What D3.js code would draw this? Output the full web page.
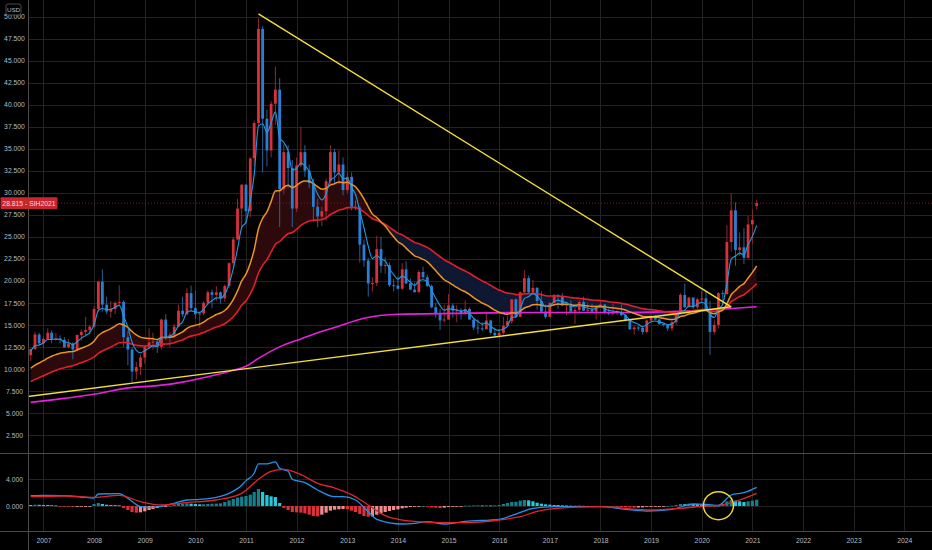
<!DOCTYPE html>
<html>
<head>
  <meta charset="utf-8">
  <title>SI1! monthly - EMA ribbon and MACD</title>
  <script src="https://d3js.org/d3.v7.min.js"></script>
  <style>
    body, html { margin: 0; background: #000; overflow: hidden; }
    svg { display: block; font-family: 'Liberation Sans', Arial, sans-serif; }
  </style>
</head>
<body>
<svg id="chart"></svg>
<script>
  // Monthly candles, Oct 2006 .. Feb 2021 (one row per year)
  const firstMonth = "2006-10";
  const open = [
    11.55, 12.25, 13.90,
    12.90, 13.40, 14.10, 13.35, 13.45, 13.30, 12.45, 12.90, 12.20, 13.85, 14.20, 14.40,
    14.80, 16.80, 19.90, 17.30, 16.50, 16.80, 17.50, 17.60, 13.60, 12.20, 9.70, 10.20,
    11.30, 12.50, 13.00, 13.10, 12.50, 15.60, 13.60, 13.90, 14.80, 16.60, 16.20, 18.60,
    16.90, 16.20, 16.30, 17.50, 18.70, 18.40, 18.70, 18.00, 19.40, 22.00, 24.70, 28.20,
    30.90, 27.90, 33.90, 37.90, 48.60, 38.40, 34.80, 40.10, 41.70, 30.40, 34.60, 32.80,
    28.20, 33.10, 34.60, 32.50, 31.10, 28.40, 27.30, 27.90, 31.30, 34.60, 32.30, 33.20,
    30.30, 31.80, 28.40, 28.30, 24.10, 22.30, 19.70, 19.75, 23.60, 21.70, 21.80, 19.50,
    19.45, 19.10, 21.30, 19.70, 19.00, 18.70, 21.00, 20.40, 19.40, 17.00, 16.20, 15.50,
    15.60, 17.20, 16.60, 16.65, 16.30, 16.80, 15.60, 14.70, 14.60, 14.50, 15.50, 14.10,
    13.80, 14.10, 14.90, 15.40, 17.90, 15.90, 18.70, 20.30, 18.70, 19.20, 17.70, 16.50,
    15.90, 17.50, 18.40, 18.20, 17.20, 17.40, 16.50, 16.70, 17.60, 16.60, 16.70, 16.50,
    17.10, 17.30, 16.40, 16.30, 16.40, 16.45, 16.10, 15.50, 14.50, 14.70, 14.65, 14.20,
    15.50, 16.00, 15.60, 15.10, 15.00, 14.60, 15.30, 16.40, 18.40, 17.00, 18.10, 17.00,
    17.90, 18.00, 16.70, 14.20, 15.00, 18.60, 18.50, 24.40, 28.00, 23.50, 23.80, 22.60,
    26.40, 28.50
  ];
  const high = [
    12.30, 14.20, 14.10,
    13.70, 14.60, 14.40, 14.10, 13.80, 13.60, 13.40, 13.00, 13.90, 14.50, 15.90, 15.00,
    17.10, 20.00, 21.30, 18.20, 17.70, 17.70, 19.50, 17.80, 14.30, 12.50, 10.80, 11.60,
    12.70, 14.60, 14.10, 13.40, 15.70, 16.20, 14.20, 15.10, 17.30, 18.20, 19.20, 19.45,
    18.90, 16.50, 17.70, 18.90, 19.00, 19.40, 18.80, 19.60, 22.10, 25.00, 29.30, 31.00,
    31.00, 34.00, 38.20, 49.80, 48.90, 39.40, 40.40, 44.30, 43.00, 35.50, 35.40, 33.70,
    34.00, 37.50, 35.40, 33.20, 31.60, 29.30, 28.40, 31.60, 35.40, 35.00, 34.80, 34.00,
    32.40, 32.30, 29.10, 28.50, 24.70, 22.60, 20.40, 25.10, 25.00, 22.70, 22.10, 20.20,
    20.50, 22.00, 22.20, 20.30, 19.80, 21.20, 21.60, 20.70, 19.60, 17.50, 16.80, 17.30,
    18.50, 17.40, 17.20, 16.90, 17.80, 17.00, 15.80, 15.60, 15.30, 16.40, 15.60, 14.70,
    14.50, 15.90, 16.00, 17.90, 18.00, 18.80, 21.20, 20.60, 20.10, 19.30, 18.80, 17.30,
    17.60, 18.50, 18.50, 18.60, 17.50, 17.80, 16.90, 17.80, 18.20, 17.50, 17.40, 17.20,
    17.70, 17.40, 16.80, 17.40, 16.80, 17.30, 16.20, 15.60, 14.90, 14.90, 14.80, 15.60,
    16.20, 16.10, 15.70, 15.20, 15.10, 15.50, 16.60, 18.60, 19.70, 18.20, 18.10, 18.10,
    18.90, 18.90, 17.70, 15.60, 18.70, 18.90, 26.30, 29.90, 28.90, 25.50, 26.00, 27.40,
    28.10, 29.20
  ];
  const low = [
    10.90, 12.15, 12.60,
    12.40, 13.30, 12.90, 13.20, 12.90, 12.40, 12.40, 11.10, 12.10, 13.20, 13.70, 13.90,
    14.70, 16.50, 16.50, 16.20, 15.80, 16.20, 17.20, 12.50, 10.40, 8.50, 8.80, 9.30,
    10.60, 12.30, 12.20, 11.80, 12.20, 13.30, 12.50, 13.50, 14.70, 15.90, 16.10, 16.60,
    15.70, 14.70, 16.10, 17.20, 16.90, 17.70, 17.40, 17.60, 19.20, 21.50, 24.60, 26.00,
    26.40, 27.20, 33.00, 37.60, 32.30, 33.00, 34.00, 37.70, 26.10, 29.80, 30.50, 26.10,
    27.80, 32.90, 31.80, 30.50, 26.70, 26.10, 26.20, 26.80, 31.00, 31.00, 31.00, 29.70,
    29.90, 28.00, 28.00, 22.10, 21.60, 18.20, 18.80, 19.40, 20.90, 20.80, 19.30, 18.80,
    19.00, 19.00, 19.60, 19.00, 18.70, 18.70, 20.20, 19.30, 16.90, 15.80, 14.40, 15.30,
    15.60, 15.80, 15.30, 15.60, 16.20, 15.60, 14.40, 14.00, 14.30, 14.50, 13.90, 13.60,
    13.60, 13.90, 14.90, 15.10, 15.80, 15.90, 18.50, 18.60, 18.60, 16.70, 16.40, 15.70,
    15.90, 17.20, 16.80, 17.10, 16.10, 16.40, 15.10, 16.30, 16.60, 16.50, 16.50, 15.60,
    16.90, 16.20, 16.10, 16.10, 16.10, 16.00, 15.40, 14.40, 13.90, 14.30, 13.90, 14.00,
    15.30, 15.60, 15.00, 14.80, 14.30, 14.30, 15.00, 16.20, 16.90, 17.00, 16.80, 16.80,
    17.50, 16.60, 11.60, 13.90, 14.60, 17.20, 18.40, 23.30, 21.70, 22.80, 21.90, 22.50,
    24.20, 28.10
  ];
  const close = [
    12.25, 13.90, 12.90,
    13.40, 14.10, 13.35, 13.45, 13.30, 12.45, 12.90, 12.20, 13.85, 14.20, 14.40, 14.80,
    16.80, 19.90, 17.30, 16.50, 16.80, 17.50, 17.60, 13.60, 12.20, 9.70, 10.20, 11.30,
    12.50, 13.00, 13.10, 12.50, 15.60, 13.60, 13.90, 14.80, 16.60, 16.20, 18.60, 16.90,
    16.20, 16.30, 17.50, 18.70, 18.40, 18.70, 18.00, 19.40, 22.00, 24.70, 28.20, 30.90,
    27.90, 33.90, 37.90, 48.60, 38.40, 34.80, 40.10, 41.70, 30.40, 34.60, 32.80, 28.20,
    33.10, 34.60, 32.50, 31.10, 28.40, 27.30, 27.90, 31.30, 34.60, 32.30, 33.20, 30.30,
    31.80, 28.40, 28.30, 24.10, 22.30, 19.70, 19.75, 23.60, 21.70, 21.80, 19.50, 19.45,
    19.10, 21.30, 19.70, 19.00, 18.70, 21.00, 20.40, 19.40, 17.00, 16.20, 15.50, 15.60,
    17.20, 16.60, 16.65, 16.30, 16.80, 15.60, 14.70, 14.60, 14.50, 15.50, 14.10, 13.80,
    14.10, 14.90, 15.40, 17.90, 15.90, 18.70, 20.30, 18.70, 19.20, 17.70, 16.50, 15.90,
    17.50, 18.40, 18.20, 17.20, 17.40, 16.50, 16.70, 17.60, 16.60, 16.70, 16.50, 17.10,
    17.30, 16.40, 16.30, 16.40, 16.45, 16.10, 15.50, 14.50, 14.70, 14.65, 14.20, 15.50,
    16.00, 15.60, 15.10, 15.00, 14.60, 15.30, 16.40, 18.40, 17.00, 18.10, 17.00, 17.90,
    18.00, 16.70, 14.20, 15.00, 18.60, 18.50, 24.40, 28.00, 23.50, 23.80, 22.60, 26.40,
    26.90, 28.815
  ];

  // Moving averages read month by month (fast blue, orange, red)
  const fastMa = [
    12.00, 12.63, 12.72,
    12.95, 13.33, 13.34, 13.38, 13.35, 13.05, 13.00, 12.73, 13.10, 13.47, 13.78, 14.12,
    15.01, 16.64, 16.86, 16.74, 16.76, 17.01, 17.21, 16.01, 14.74, 13.06, 12.11, 11.84,
    12.06, 12.37, 12.61, 12.57, 13.58, 13.59, 13.69, 14.06, 14.91, 15.34, 16.43, 16.59,
    16.46, 16.41, 16.77, 17.41, 17.74, 18.06, 18.04, 18.49, 19.66, 21.34, 23.63, 26.05,
    26.67, 29.08, 32.02, 37.55, 37.83, 36.82, 37.91, 39.17, 36.25, 35.70, 34.73, 32.56,
    32.74, 33.36, 33.07, 32.42, 31.08, 29.82, 29.18, 29.89, 31.46, 31.74, 32.22, 31.58,
    31.66, 30.57, 29.82, 27.91, 26.04, 23.93, 22.52, 22.88, 22.48, 22.26, 21.34, 20.72,
    20.18, 20.56, 20.27, 19.85, 19.47, 19.98, 20.12, 19.88, 18.92, 18.01, 17.18, 16.65,
    16.83, 16.76, 16.70, 16.57, 16.65, 16.30, 15.76, 15.38, 15.08, 15.22, 14.85, 14.50,
    14.37, 14.54, 14.83, 15.85, 15.87, 16.81, 17.98, 18.22, 18.54, 18.26, 17.68, 17.08,
    17.22, 17.62, 17.81, 17.61, 17.54, 17.19, 17.03, 17.22, 17.01, 16.91, 16.77, 16.88,
    17.02, 16.81, 16.64, 16.56, 16.51, 16.37, 16.08, 15.55, 15.27, 15.08, 14.79, 15.03,
    15.35, 15.43, 15.32, 15.21, 15.01, 15.11, 15.54, 16.49, 16.66, 17.14, 17.09, 17.36,
    17.57, 17.28, 16.25, 15.84, 16.76, 17.34, 19.69, 22.46, 22.81, 23.14, 22.96, 24.11,
    25.04, 26.29
  ];
  const midMa = [
    10.07, 10.43, 10.67,
    10.93, 11.23, 11.43, 11.62, 11.78, 11.85, 11.95, 11.97, 12.15, 12.35, 12.54, 12.76,
    13.14, 13.79, 14.12, 14.35, 14.58, 14.86, 15.12, 14.98, 14.71, 14.24, 13.85, 13.61,
    13.50, 13.45, 13.42, 13.33, 13.55, 13.55, 13.58, 13.70, 13.97, 14.19, 14.61, 14.83,
    14.96, 15.08, 15.31, 15.64, 15.90, 16.17, 16.34, 16.63, 17.14, 17.86, 18.85, 19.99,
    20.75, 22.00, 23.51, 25.90, 27.09, 27.82, 28.99, 30.20, 30.22, 30.64, 30.84, 30.59,
    30.83, 31.19, 31.32, 31.30, 31.02, 30.67, 30.40, 30.49, 30.88, 31.01, 31.22, 31.14,
    31.20, 30.93, 30.68, 30.05, 29.31, 28.40, 27.57, 27.19, 26.67, 26.21, 25.57, 24.99,
    24.43, 24.13, 23.71, 23.26, 22.83, 22.66, 22.44, 22.15, 21.66, 21.14, 20.60, 20.12,
    19.84, 19.53, 19.25, 18.97, 18.76, 18.46, 18.10, 17.77, 17.46, 17.27, 16.97, 16.67,
    16.43, 16.28, 16.20, 16.36, 16.32, 16.55, 16.91, 17.08, 17.28, 17.32, 17.24, 17.11,
    17.15, 17.27, 17.36, 17.34, 17.35, 17.27, 17.22, 17.26, 17.20, 17.15, 17.09, 17.09,
    17.11, 17.04, 16.97, 16.92, 16.87, 16.80, 16.68, 16.47, 16.30, 16.15, 15.96, 15.92,
    15.93, 15.90, 15.82, 15.74, 15.63, 15.60, 15.68, 15.94, 16.04, 16.24, 16.31, 16.46,
    16.61, 16.62, 16.39, 16.26, 16.48, 16.67, 17.40, 18.42, 18.90, 19.37, 19.68, 20.32,
    20.95, 21.70
  ];
  const slowMa = [
    8.55, 8.81, 9.01,
    9.22, 9.46, 9.65, 9.84, 10.01, 10.13, 10.26, 10.36, 10.53, 10.71, 10.89, 11.08,
    11.36, 11.77, 12.04, 12.26, 12.48, 12.73, 12.97, 13.00, 12.96, 12.80, 12.67, 12.61,
    12.60, 12.62, 12.64, 12.64, 12.78, 12.82, 12.87, 12.97, 13.14, 13.29, 13.55, 13.72,
    13.84, 13.96, 14.13, 14.35, 14.55, 14.75, 14.91, 15.13, 15.47, 15.92, 16.52, 17.22,
    17.74, 18.53, 19.47, 20.89, 21.75, 22.39, 23.25, 24.15, 24.46, 24.95, 25.34, 25.48,
    25.85, 26.28, 26.58, 26.80, 26.88, 26.90, 26.95, 27.16, 27.52, 27.76, 28.02, 28.13,
    28.31, 28.31, 28.31, 28.10, 27.82, 27.42, 27.05, 26.88, 26.63, 26.39, 26.06, 25.74,
    25.41, 25.21, 24.94, 24.65, 24.36, 24.20, 24.01, 23.79, 23.46, 23.10, 22.73, 22.38,
    22.13, 21.86, 21.60, 21.34, 21.12, 20.85, 20.55, 20.26, 19.98, 19.76, 19.48, 19.20,
    18.95, 18.75, 18.59, 18.56, 18.43, 18.44, 18.53, 18.54, 18.57, 18.53, 18.43, 18.31,
    18.27, 18.28, 18.28, 18.23, 18.19, 18.11, 18.04, 18.02, 17.95, 17.89, 17.82, 17.79,
    17.77, 17.70, 17.63, 17.57, 17.51, 17.44, 17.35, 17.21, 17.09, 16.97, 16.84, 16.77,
    16.73, 16.68, 16.60, 16.52, 16.43, 16.37, 16.37, 16.47, 16.50, 16.58, 16.60, 16.66,
    16.73, 16.73, 16.60, 16.53, 16.63, 16.72, 17.10, 17.63, 17.92, 18.21, 18.42, 18.81,
    19.21, 19.68
  ];

  // Long moving average (magenta), read at a few points
  const longMaDates = ["2006-10", "2007-06", "2008-02", "2008-09", "2009-04", "2009-10",
    "2010-04", "2010-10", "2011-01", "2011-04", "2011-09", "2012-02", "2012-06", "2012-10",
    "2013-05", "2014-01", "2015-02", "2016-08", "2018-06", "2020-03", "2021-02"];
  const longMaValues = [6.2, 6.65, 7.2, 7.85, 8.1, 8.5, 9.1, 9.85, 10.3, 11.2, 12.5, 13.4,
    14.1, 14.7, 15.75, 16.2, 16.3, 16.4, 16.4, 16.7, 17.05];

  // MACD pane
  const macdDates = ["2006-10", "2007-01", "2007-06", "2007-10", "2008-01", "2008-02", "2008-07",
    "2008-09", "2008-12", "2009-02", "2009-05", "2009-08", "2009-11", "2010-02", "2010-06",
    "2010-09", "2010-12", "2011-01", "2011-03", "2011-04", "2011-06", "2011-08", "2011-09",
    "2011-11", "2011-12", "2012-03", "2012-06", "2012-10", "2012-12", "2013-03", "2013-06",
    "2013-08", "2014-02", "2014-05", "2014-08", "2014-12", "2015-05", "2016-01", "2016-05",
    "2016-09", "2017-02", "2018-01", "2018-07", "2018-12", "2019-06", "2019-11", "2020-02",
    "2020-05", "2020-08", "2020-11", "2021-02"];
  const macdValues = [1.55, 1.6, 1.55, 1.35, 1.2, 1.8, 1.85, 1.15, -0.1, -0.2, -0.05, 0.4, 0.9,
    1.0, 1.3, 1.9, 3.1, 3.8, 4.9, 6.3, 6.3, 6.6, 5.65, 5.2, 4.0, 3.5, 2.4, 1.4, 1.4, 0.9,
    -0.85, -2.0, -2.7, -2.6, -2.35, -2.7, -2.3, -2.0, -1.2, -0.35, -0.1, -0.1, -0.5, -0.75,
    -0.5, 0.3, 0.25, 0.1, 1.65, 2.0, 2.8];
  const signalDates = ["2006-10", "2007-06", "2008-01", "2008-07", "2008-12", "2009-05", "2009-11",
    "2010-06", "2010-12", "2011-04", "2011-07", "2011-10", "2012-02", "2012-06", "2012-10",
    "2013-02", "2013-06", "2013-10", "2014-03", "2014-09", "2015-05", "2016-01", "2016-06",
    "2016-10", "2017-05", "2018-01", "2019-01", "2019-08", "2020-02", "2020-05", "2020-10",
    "2021-02"];
  const signalValues = [1.4, 1.5, 1.3, 1.6, 0.65, 0.15, 0.5, 0.9, 1.9, 4.0, 5.2, 5.5, 4.7, 3.4,
    2.7, 1.7, 0.15, -1.45, -2.2, -2.45, -2.5, -2.1, -1.6, -0.8, -0.25, -0.1, -0.6, -0.35,
    0.0, 0.1, 0.9, 1.9];
  const histogram = [
    0.15, 0.20, 0.18,
    0.15, 0.15, 0.12, 0.08, -0.03, -0.08, -0.10, -0.12, -0.10, -0.08, -0.05, -0.04,
    0.30, 0.45, 0.30, 0.20, 0.15, 0.14, 0.10, -0.30, -0.60, -0.90, -1.00, -0.95,
    -0.80, -0.60, -0.45, -0.30, -0.15, -0.05, 0.05, 0.20, 0.30, 0.35, 0.40, 0.35,
    0.30, 0.25, 0.26, 0.30, 0.35, 0.36, 0.40, 0.60, 0.85, 1.05, 1.25, 1.40,
    1.50, 1.70, 2.10, 2.55, 2.10, 1.65, 1.45, 1.35, 0.45, -0.30, -0.60, -0.90,
    -0.95, -1.00, -1.10, -1.30, -1.50, -1.55, -1.30, -1.00, -0.70, -0.55, -0.50, -0.45,
    -0.50, -0.70, -0.90, -1.20, -1.50, -1.60, -1.55, -1.30, -1.10, -0.90, -0.75, -0.60,
    -0.50, -0.35, -0.25, -0.15, -0.10, -0.05, 0.00, -0.10, -0.20, -0.25, -0.30, -0.25,
    -0.15, -0.10, -0.05, -0.04, 0.05, 0.06, 0.08, 0.10, 0.08, 0.10, 0.08, 0.10,
    0.15, 0.30, 0.45, 0.60, 0.62, 0.80, 0.90, 0.85, 0.70, 0.50, 0.35, 0.25,
    0.20, 0.15, 0.14, 0.10, 0.08, 0.05, 0.06, 0.05, 0.03, 0.02, 0.01, 0.00,
    -0.02, -0.05, -0.08, -0.10, -0.12, -0.15, -0.18, -0.22, -0.25, -0.22, -0.20, -0.12,
    -0.08, -0.05, -0.04, -0.03, 0.00, 0.05, 0.15, 0.30, 0.28, 0.35, 0.30, 0.29,
    0.25, 0.15, 0.05, -0.02, 0.00, 0.30, 0.70, 0.90, 0.80, 0.70, 0.60, 0.70,
    0.80, 0.95
  ];

  // Axis ticks and annotations
  const priceTicks = [2.5, 5, 7.5, 10, 12.5, 15, 17.5, 20, 22.5, 25, 27.5, 30, 32.5, 35,
    37.5, 40, 42.5, 45, 47.5, 50];
  const macdTicks = [0, 4];
  const yearTicks = [2007, 2008, 2009, 2010, 2011, 2012, 2013, 2014, 2015, 2016, 2017, 2018,
    2019, 2020, 2021, 2022, 2023, 2024];
  const lastPrice = 28.815;
  const lastLabel = "28.815 - SIH2021";
  const supportLine = [["2006-09", 6.85], ["2020-08", 17.05]];
  const resistanceLine = [["2011-04", 50.3], ["2020-08", 17.05]];
  const macdCircle = ["2020-05", 0.05];

  // ---- layout ----
  const width = 932, height = 550;
  const axisW = 28;
  const priceBottom = 453, macdBottom = 531;

  const parseMonth = d3.timeParse("%Y-%m");
  const start = parseMonth(firstMonth);
  const months = close.map((d, i) => d3.timeMonth.offset(start, i));

  const x = d3.scaleTime()
    .domain([parseMonth("2006-10"), parseMonth("2024-01")])
    .range([30.7, 904.2]);
  const yP = d3.scaleLinear().domain([0, 50]).range([457, 16.5]);
  const yM = d3.scaleLinear().domain([0, 4]).range([506, 479.3]);

  const svg = d3.select("#chart")
    .attr("width", width)
    .attr("height", height)
    .attr("viewBox", [0, 0, width, height]);

  svg.append("rect").attr("width", width).attr("height", height).attr("fill", "#000");

  const defs = svg.append("defs");
  defs.append("clipPath").attr("id", "clip-price")
    .append("rect").attr("x", axisW).attr("y", 0)
    .attr("width", width - axisW).attr("height", priceBottom);
  defs.append("clipPath").attr("id", "clip-macd")
    .append("rect").attr("x", axisW).attr("y", priceBottom)
    .attr("width", width - axisW).attr("height", macdBottom - priceBottom);

  // grid
  const grid = svg.append("g").attr("stroke", "#232323").attr("stroke-width", 1);
  grid.selectAll(".hgrid")
    .data(priceTicks)
    .join("line")
      .attr("x1", axisW).attr("x2", width)
      .attr("y1", d => Math.round(yP(d)) + 0.5).attr("y2", d => Math.round(yP(d)) + 0.5);
  grid.selectAll(".mgrid")
    .data(macdTicks)
    .join("line")
      .attr("x1", axisW).attr("x2", width)
      .attr("y1", d => Math.round(yM(d)) + 0.5).attr("y2", d => Math.round(yM(d)) + 0.5);
  grid.selectAll(".vgrid")
    .data(yearTicks)
    .join("line")
      .attr("x1", d => Math.round(x(new Date(d, 0, 1))) + 0.5)
      .attr("x2", d => Math.round(x(new Date(d, 0, 1))) + 0.5)
      .attr("y1", 0).attr("y2", macdBottom);

  // ---- price pane ----
  const pricePane = svg.append("g").attr("clip-path", "url(#clip-price)");
  const mx = (d, i) => x(months[i]);

  // ribbon between mid and slow averages, coloured by which one is on top
  const ribbon = d3.area().x(mx).y0((d, i) => yP(slowMa[i])).y1(d => yP(d)).curve(d3.curveMonotoneX);
  defs.append("clipPath").attr("id", "clip-above")
    .append("path")
    .attr("d", d3.area().x(mx).y0(0).y1(d => yP(d)).curve(d3.curveMonotoneX)(slowMa));
  defs.append("clipPath").attr("id", "clip-below")
    .append("path")
    .attr("d", d3.area().x(mx).y0(d => yP(d)).y1(priceBottom).curve(d3.curveMonotoneX)(slowMa));
  pricePane.append("path")
    .attr("d", ribbon(midMa))
    .attr("fill", "#2c0a0b")
    .attr("clip-path", "url(#clip-above)");
  pricePane.append("path")
    .attr("d", ribbon(midMa))
    .attr("fill", "#0e1832")
    .attr("clip-path", "url(#clip-below)");

  // last price dotted line
  pricePane.append("line")
    .attr("x1", axisW).attr("x2", width)
    .attr("y1", yP(lastPrice)).attr("y2", yP(lastPrice))
    .attr("stroke", "#7d1b1f").attr("stroke-dasharray", "1,2");

  // candles
  const bodyW = 2.8;
  const candles = pricePane.append("g")
    .selectAll("g")
    .data(close)
    .join("g");
  candles.append("line")
    .attr("x1", mx).attr("x2", mx)
    .attr("y1", (d, i) => yP(high[i]))
    .attr("y2", (d, i) => yP(low[i]))
    .attr("stroke", (d, i) => d >= open[i] ? "#8e2a30" : "#28609a")
    .attr("stroke-width", 1);
  candles.append("rect")
    .attr("x", (d, i) => mx(d, i) - bodyW / 2)
    .attr("width", bodyW)
    .attr("y", (d, i) => yP(Math.max(d, open[i])))
    .attr("height", (d, i) => Math.max(1, Math.abs(yP(open[i]) - yP(d))))
    .attr("fill", (d, i) => d >= open[i] ? "#d9313a" : "#2b7fd2");

  // moving average lines
  const maLine = d3.line().x(mx).y(d => yP(d)).curve(d3.curveMonotoneX);
  const sampledLine = (dates, scale) => d3.line()
    .x((d, i) => x(parseMonth(dates[i])))
    .y(d => scale(d))
    .curve(d3.curveMonotoneX);

  pricePane.append("path")
    .attr("d", sampledLine(longMaDates, yP)(longMaValues))
    .attr("fill", "none").attr("stroke", "#e81fe0").attr("stroke-width", 1.6);
  pricePane.append("path")
    .attr("d", maLine(slowMa))
    .attr("fill", "none").attr("stroke", "#e01f2b").attr("stroke-width", 1.6);
  pricePane.append("path")
    .attr("d", maLine(midMa))
    .attr("fill", "none").attr("stroke", "#ec9320").attr("stroke-width", 1.5);
  pricePane.append("path")
    .attr("d", maLine(fastMa))
    .attr("fill", "none").attr("stroke", "#1f9be0").attr("stroke-width", 1.1);

  // trend lines
  const trend = d3.line().x(d => x(parseMonth(d[0]))).y(d => yP(d[1]));
  [supportLine, resistanceLine].forEach(l => {
    pricePane.append("path")
      .attr("d", trend(l))
      .attr("fill", "none").attr("stroke", "#f4df3a").attr("stroke-width", 1.4);
  });

  // ---- MACD pane ----
  const macdPane = svg.append("g").attr("clip-path", "url(#clip-macd)");
  const histColor = (v, i) => {
    const p = i > 0 ? histogram[i - 1] : v;
    if (v >= 0) return v > p ? "#12808d" : "#27c8dc";
    return v < p ? "#df2f38" : "#f08c8f";
  };
  macdPane.append("g")
    .selectAll("rect")
    .data(histogram)
    .join("rect")
      .attr("x", (d, i) => mx(d, i) - 1.6)
      .attr("width", 3.2)
      .attr("y", d => Math.min(yM(d), yM(0)))
      .attr("height", d => Math.max(0.8, Math.abs(yM(d) - yM(0))))
      .attr("fill", histColor);

  macdPane.append("path")
    .attr("d", sampledLine(macdDates, yM)(macdValues))
    .attr("fill", "none").attr("stroke", "#2293ea").attr("stroke-width", 1.3);
  macdPane.append("path")
    .attr("d", sampledLine(signalDates, yM)(signalValues))
    .attr("fill", "none").attr("stroke", "#e3242e").attr("stroke-width", 1.3);

  macdPane.append("ellipse")
    .attr("cx", x(parseMonth(macdCircle[0])))
    .attr("cy", yM(macdCircle[1]))
    .attr("rx", 15).attr("ry", 14)
    .attr("fill", "none").attr("stroke", "#f2d434").attr("stroke-width", 1.5);

  // ---- frame lines ----
  const frame = svg.append("g").attr("stroke", "#4a4a4a").attr("stroke-width", 1);
  frame.append("line").attr("x1", 0).attr("x2", width).attr("y1", priceBottom + 0.5).attr("y2", priceBottom + 0.5);
  frame.append("line").attr("x1", 0).attr("x2", width).attr("y1", macdBottom + 0.5).attr("y2", macdBottom + 0.5);
  frame.append("line").attr("x1", axisW + 0.5).attr("x2", axisW + 0.5).attr("y1", 0).attr("y2", height);

  // ---- axes ----
  const labelColor = "#b9bcc2";
  const fontSize = "6.8px";

  svg.append("g")
    .attr("transform", `translate(${axisW},0)`)
    .call(d3.axisLeft(yP).tickValues(priceTicks).tickFormat(d3.format(".3f")).tickSize(0))
    .call(g => g.select(".domain").remove())
    .call(g => g.selectAll("text")
      .attr("x", 14.5 - axisW).attr("text-anchor", "middle")
      .attr("fill", labelColor).style("font-size", fontSize).style("font-family", "'Liberation Sans', Arial, sans-serif"));

  svg.append("g")
    .attr("transform", `translate(${axisW},0)`)
    .call(d3.axisLeft(yM).tickValues(macdTicks).tickFormat(d3.format(".3f")).tickSize(0))
    .call(g => g.select(".domain").remove())
    .call(g => g.selectAll("text")
      .attr("x", 14.5 - axisW).attr("text-anchor", "middle")
      .attr("fill", labelColor).style("font-size", fontSize).style("font-family", "'Liberation Sans', Arial, sans-serif"));

  svg.append("g")
    .attr("transform", `translate(0,${macdBottom})`)
    .call(d3.axisBottom(x).tickValues(yearTicks.map(y => new Date(y, 0, 1))).tickFormat(d3.timeFormat("%Y")).tickSize(0))
    .call(g => g.select(".domain").remove())
    .call(g => g.selectAll("text")
      .attr("y", 7)
      .attr("fill", labelColor).style("font-size", fontSize).style("font-family", "'Liberation Sans', Arial, sans-serif"));

  // currency box, partly covering the top label
  svg.append("rect")
    .attr("x", 6).attr("y", 4).attr("width", 15).attr("height", 11).attr("rx", 2)
    .attr("fill", "#000").attr("stroke", "#5a5a5a").attr("stroke-width", 0.8);
  svg.append("text")
    .attr("x", 13.5).attr("y", 11.8).attr("text-anchor", "middle")
    .attr("fill", labelColor).style("font-size", "6.2px").text("USD");

  // last price tag
  const tagY = yP(lastPrice);
  svg.append("rect")
    .attr("x", 0.5).attr("y", tagY - 5.8).attr("width", 57).attr("height", 11.6).attr("rx", 1)
    .attr("fill", "#c8262d");
  svg.append("text")
    .attr("x", 29).attr("y", tagY + 2.4).attr("text-anchor", "middle")
    .attr("fill", "#f4dcdc").style("font-size", fontSize).text(lastLabel);
</script>
</body>
</html>
